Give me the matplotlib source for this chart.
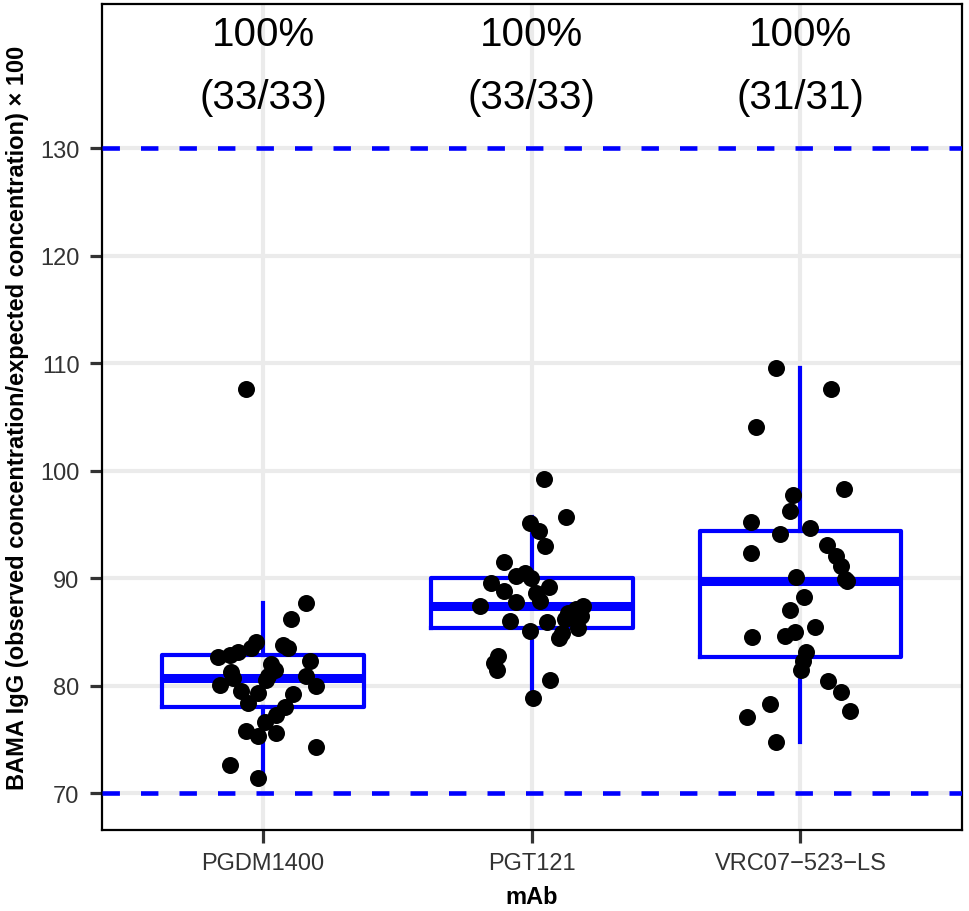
import numpy as np
import matplotlib
matplotlib.use("Agg")
from matplotlib import pyplot as plt

plt.rcParams["font.family"] = ["Liberation Sans", "DejaVu Sans"]

mabs = ["PGDM1400", "PGT121", "VRC07\u2212523\u2212LS"]
labels_top = ["100%", "100%", "100%"]
labels_frac = ["(33/33)", "(33/33)", "(31/31)"]
ref_lo, ref_hi = 70, 130

# values, with the horizontal jitter of each dot
pgdm1400 = [107.6, 87.7, 86.2, 84.05, 83.5, 83.1, 82.9, 82.7, 83.8, 83.5, 82.3,
            82.0, 81.5, 81.3, 80.95, 80.95, 80.1, 80.7, 80.0, 79.5, 79.35, 79.2,
            78.4, 78.0, 77.3, 76.6, 75.8, 75.3, 75.6, 74.3, 72.6, 71.4, 80.5]
pgdm1400_jit = [-0.062, 0.159, 0.106, -0.025, -0.043, -0.093, -0.124, -0.167, 0.074,
                0.093, 0.176, 0.031, 0.044, -0.118, 0.019, 0.159, -0.161, -0.112,
                0.196, -0.080, -0.019, 0.112, -0.056, 0.081, 0.050, 0.006, -0.062,
                -0.019, 0.047, 0.199, -0.124, -0.019, 0.010]

pgt121 = [99.2, 95.65, 95.1, 94.4, 93.0, 91.5, 90.5, 90.2, 90.0, 89.6, 89.15,
          88.85, 88.6, 87.9, 87.8, 87.45, 87.4, 87.1, 86.8, 86.5, 86.2, 86.0,
          85.9, 85.4, 85.1, 84.9, 84.45, 82.75, 82.1, 81.5, 80.5, 78.9, 86.3]
pgt121_jit = [0.046, 0.129, -0.007, 0.026, 0.048, -0.104, -0.026, -0.057, -0.001,
              -0.153, 0.063, -0.104, 0.017, 0.030, -0.057, -0.193, 0.191, 0.166,
              0.135, 0.185, 0.123, -0.082, 0.055, 0.172, -0.007, 0.111, 0.102,
              -0.125, -0.141, -0.131, 0.067, 0.005, 0.154]

vrc07 = [109.6, 107.6, 104.05, 98.3, 97.7, 96.25, 95.2, 94.15, 94.7, 92.35, 93.1,
         92.1, 91.1, 89.9, 90.1, 88.3, 87.0, 85.5, 84.55, 84.6, 85.0, 83.1, 82.3,
         81.45, 80.4, 79.45, 77.65, 78.3, 77.1, 74.8, 89.7]
vrc07_jit = [-0.090, 0.115, -0.164, 0.162, -0.027, -0.038, -0.185, -0.077, 0.034,
             -0.183, 0.099, 0.131, 0.150, 0.164, -0.018, 0.013, -0.040, 0.053,
             -0.179, -0.059, -0.022, 0.022, 0.009, 0.003, 0.102, 0.152, 0.183,
             -0.112, -0.199, -0.090, 0.174]

groups = [pgdm1400, pgt121, vrc07]
jitters = [pgdm1400_jit, pgt121_jit, vrc07_jit]

fig = plt.figure(figsize=(9.69, 9.12), dpi=100)
ax = fig.add_axes([0.105, 0.0892, 0.8875, 0.9053])

blue = "#0000FF"
pos = np.arange(1, 4)

# grid
for y in range(70, 131, 10):
    ax.axhline(y, color="#EBEBEB", lw=3, zorder=0)
for x in pos:
    ax.axvline(x, color="#EBEBEB", lw=3, zorder=0)

ax.boxplot(groups, positions=pos, widths=0.75, showfliers=False,
           boxprops=dict(color=blue, lw=3),
           whiskerprops=dict(color=blue, lw=3),
           capprops=dict(lw=0),
           medianprops=dict(color=blue, lw=6.5, solid_capstyle="butt"),
           zorder=2)

for p, vals, jit in zip(pos, groups, jitters):
    ax.scatter(p + np.array(jit), vals, s=150, color="black", zorder=4, lw=0)

for y in (ref_lo, ref_hi):
    ax.axhline(y, color=blue, lw=3.3, dashes=(3.8, 4.6), zorder=3)

for p, t1, t2 in zip(pos, labels_top, labels_frac):
    ax.text(p, 140.6, t1, ha="center", va="center", fontsize=29, color="black")
    ax.text(p, 134.8, t2, ha="center", va="center", fontsize=29, color="black")

ax.set_xlim(0.4, 3.6)
ax.set_ylim(66.61, 143.42)
ax.set_xticks(pos)
ax.set_xticklabels(mabs)
ax.set_yticks(range(70, 131, 10))
ax.tick_params(axis="both", length=9, width=2.3, color="#333333",
               labelsize=17, labelcolor="#333333", pad=7)
for s in ax.spines.values():
    s.set_linewidth(1.6)
    s.set_color("black")

ax.set_xlabel("mAb", fontsize=17, fontweight="bold", labelpad=8)
ax.set_ylabel("BAMA IgG (observed concentration/expected concentration) \u00d7 100",
              fontsize=17, fontweight="bold", labelpad=8)

fig.savefig("out.png", dpi=100)
